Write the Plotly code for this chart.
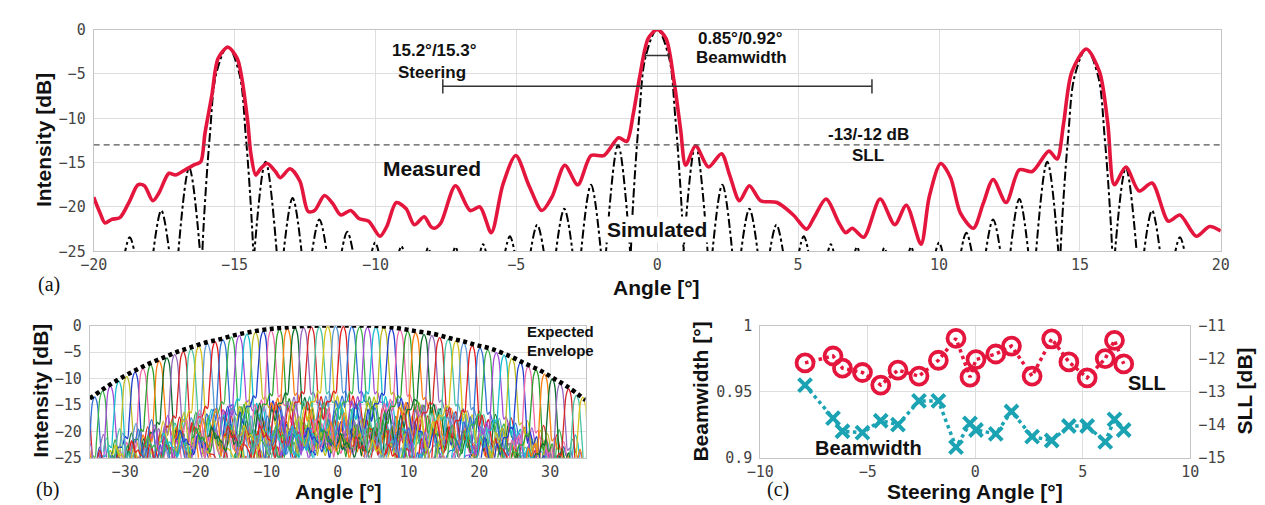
import plotly.graph_objects as go

# ---------------- Panel (a) data ----------------
meas_x = [-20.0,-19.77,-19.6,-19.36,-19.07,-18.72,-18.43,-18.2,-17.9,-17.68,-17.33,-17.1,-16.75,-16.4,-16.2,-16.05,-15.8,-15.59,-15.24,-14.9,-14.54,-14.43,-14.25,-14.08,-13.84,-13.55,-13.38,-13.03,-12.68,-12.39,-12.16,-11.81,-11.52,-11.23,-10.88,-10.59,-10.24,-9.84,-9.6,-9.26,-8.91,-8.62,-8.27,-8.04,-7.91,-7.68,-7.16,-6.64,-6.29,-5.89,-5.48,-5.02,-4.55,-4.09,-3.74,-3.28,-2.82,-2.35,-1.89,-1.37,-1.08,-0.85,-0.61,-0.32,0.0,0.31,0.6,0.83,1.01,1.36,1.82,2.28,2.57,2.92,3.27,3.67,4.25,4.83,5.3,5.58,5.99,6.45,6.69,6.92,7.33,7.91,8.43,8.84,9.36,9.65,10.06,10.41,10.76,11.22,11.57,11.92,12.38,12.85,13.31,13.9,14.19,14.42,14.71,15.23,15.7,15.99,16.22,16.63,17.1,17.56,18.14,18.55,19.13,19.6,20.0]
meas_y = [-18.9,-20.7,-21.8,-21.4,-21.2,-19.3,-17.5,-17.6,-19.3,-18.4,-16.2,-16.4,-15.8,-15.2,-14.9,-11.7,-7.3,-3.3,-2.0,-3.3,-10.2,-13.8,-16.4,-15.7,-15.1,-16.0,-16.7,-15.7,-17.1,-20.5,-20.4,-18.7,-19.6,-20.9,-20.4,-21.3,-21.6,-23.3,-22.2,-19.5,-20.2,-22.0,-21.1,-22.2,-22.4,-21.8,-17.6,-20.4,-20.0,-22.9,-17.5,-14.2,-17.6,-20.4,-18.9,-15.3,-17.5,-14.2,-14.2,-12.2,-12.6,-9.5,-5.1,-1.0,0.0,-1.0,-5.9,-11.3,-15.3,-13.1,-15.5,-14.0,-16.4,-19.3,-17.6,-19.3,-19.5,-20.9,-22.5,-21.1,-19.1,-21.8,-22.9,-22.4,-23.4,-19.1,-22.0,-19.8,-24.2,-18.9,-15.1,-16.7,-20.7,-22.4,-19.6,-16.9,-19.5,-15.8,-16.0,-13.7,-14.6,-10.6,-4.8,-2.2,-4.8,-10.6,-17.5,-15.5,-18.2,-17.3,-21.6,-20.9,-23.3,-22.2,-22.7]

# simulated lobes: centre, peak (dB), half width at the -25 dB floor
sim_c = [-18.72,-17.6,-16.61,-15.24,-13.9,-12.94,-11.99,-11.0,-10.01,-9.08,-8.13,-7.16,-6.18,-5.23,-4.26,-3.30,-2.35,-1.39,0.0,1.36,2.31,3.27,4.23,5.2,6.16,7.09,8.06,9.01,10.0,10.97,11.92,12.85,13.84,15.23,16.63,17.56,18.55]
sim_p = [-23.4,-20.4,-15.6,-1.9,-14.9,-19.0,-21.4,-22.8,-24.0,-24.4,-24.6,-24.5,-24.2,-23.3,-22.0,-20.2,-17.5,-13.0,0.0,-13.0,-17.5,-20.2,-22.0,-23.3,-24.2,-24.5,-24.6,-24.5,-24.0,-22.9,-21.4,-19.1,-14.9,-2.2,-15.6,-20.4,-23.4]
sim_hw = [0.19,0.29,0.38,0.95,0.39,0.32,0.27,0.22,0.15,0.12,0.10,0.11,0.13,0.19,0.25,0.30,0.35,0.42,0.96,0.42,0.35,0.30,0.25,0.19,0.13,0.11,0.10,0.11,0.15,0.21,0.27,0.32,0.39,0.97,0.38,0.29,0.19]
# main-lobe profile of the simulated beam (offset / relative dB)
main_dx = [-1.0, -0.9, -0.67, -0.425, 0.0, 0.425, 0.67, 0.9, 1.0]
main_rel = [-27, -20, -10, -3, 0, -3, -10, -20, -27]

steer_bracket = [-7.61, 7.62, -6.4]
bw_bracket = [-0.42, 0.42, -2.93]
sll_level = -13

# ---------------- Panel (b) data ----------------
beam_c = [-35.4,-34.3,-33.2,-32.1,-30.9,-29.8,-28.6,-27.5,-26.4,-25.2,-24.1,-23.0,-21.8,-20.7,-19.6,-18.4,-17.3,-16.2,-15.0,-13.9,-12.8,-11.6,-10.5,-9.4,-8.2,-7.1,-6.0,-4.8,-3.7,-2.6,-1.4,-0.3,0.8,2.0,3.1,4.2,5.4,6.5,7.6,8.8,9.9,11.0,12.2,13.3,14.4,15.6,16.7,17.8,19.0,20.1,21.2,22.4,23.5,24.6,25.8,26.9,28.0,29.2,30.3,31.4,32.6,33.7,34.6]
beam_p = [-15.6,-13.5,-12.4,-11.4,-10.5,-9.6,-8.8,-8.1,-7.4,-6.7,-6.1,-5.5,-4.9,-4.4,-3.9,-3.4,-3.1,-2.7,-2.2,-1.9,-1.6,-1.3,-1.1,-0.9,-0.7,-0.6,-0.5,-0.4,-0.3,-0.3,-0.2,-0.2,-0.2,-0.2,-0.3,-0.3,-0.3,-0.4,-0.6,-0.8,-1.1,-1.4,-1.7,-1.9,-2.3,-2.6,-2.9,-3.3,-3.8,-4.2,-4.6,-5.1,-5.6,-6.2,-7.0,-7.7,-8.4,-9.2,-10.1,-11.0,-12.0,-13.2,-13.6]
env_x = [-35,-33.4,-31.7,-29.9,-28,-26.3,-24.3,-22.5,-20.7,-18.6,-16.7,-14.5,-12.3,-10,-7.7,-5,-2.6,0,2.5,4.8,7.6,10.8,13.6,15.9,17.8,19.6,21.7,24.5,26.5,28.6,30.5,32.5,35]
env_y = [-13.8,-12.3,-10.8,-9.4,-8.1,-7.0,-5.9,-4.9,-4.1,-3.2,-2.6,-1.8,-1.2,-0.7,-0.4,-0.1,0,0,0,0,-0.3,-1.0,-1.6,-2.4,-3.0,-3.7,-4.4,-5.9,-7.2,-8.5,-10.0,-11.6,-14.1]
beam_colors = ['#e41a1c','#2f6fd6','#3cb44b','#a24bd8','#17becf','#bcbd22','#1f3fd0','#f06aa8',
               '#2ca02c','#ff7f0e','#0b6e2e','#9467bd','#d62728','#46c3a0','#d4c21a','#5b9bd5']

# ---------------- Panel (c) data ----------------
steer = [-7.92,-6.62,-6.18,-5.25,-4.40,-3.60,-2.62,-1.72,-0.90,-0.25,0.03,0.95,1.68,2.64,3.55,4.35,5.20,6.04,6.47,6.90]
sll = [-12.13,-11.92,-12.29,-12.42,-12.80,-12.35,-12.53,-12.05,-11.39,-12.56,-12.03,-11.86,-11.62,-12.53,-11.40,-12.10,-12.58,-12.00,-11.45,-12.16]
bw = [0.955,0.930,0.920,0.919,0.928,0.925,0.943,0.943,0.908,0.926,0.921,0.918,0.935,0.916,0.913,0.924,0.924,0.912,0.929,0.921]

# ---------------- style ----------------
W, H = 1265, 505
RED = '#e4163d'
CYAN = '#1ba3b3'
SANS = 'Liberation Sans, Arial, sans-serif'
MONO = 'DejaVu Sans Mono, monospace'
SERIF = 'Liberation Serif, Times New Roman, serif'
GRID = '#dedede'
FRAME = '#c4c4c4'
TICKF = dict(family=MONO, size=15, color='#444')

def px(xp, yp):
    return xp / W, 1 - yp / H

fig = go.Figure()

# simulated (a)
sx, sy = [], []
for c, p, hw in zip(sim_c, sim_p, sim_hw):
    if p > -5:
        for dx, r in zip(main_dx, main_rel):
            sx.append(c + dx * hw)
            sy.append(p + r)
    else:
        sx += [c - hw * 1.05, c, c + hw * 1.05]
        sy += [-25.6, p, -25.6]
    sx.append(None)
    sy.append(None)
fig.add_trace(go.Scatter(x=sx, y=sy, mode='lines', xaxis='x', yaxis='y',
                         line=dict(color='black', width=2, dash='dashdot', shape='spline'),
                         connectgaps=False, showlegend=False))
fig.add_trace(go.Scatter(x=meas_x, y=meas_y, mode='lines', xaxis='x', yaxis='y',
                         line=dict(color=RED, width=3.6, shape='spline', smoothing=0.8),
                         showlegend=False))

# panel (b) beams
rel = [(x, y) for x, y in zip(meas_x, meas_y) if -12.5 <= x <= 12.5]
for i, (c, p) in enumerate(zip(beam_c, beam_p)):
    if i % 2 == 0:
        bx = [c + x for x, _ in rel]
        by = [p + y for _, y in rel]
    else:
        bx = [c - x for x, _ in reversed(rel)]
        by = [p + y for _, y in reversed(rel)]
    fig.add_trace(go.Scatter(x=bx, y=by, mode='lines', xaxis='x2', yaxis='y2',
                             line=dict(color=beam_colors[i % len(beam_colors)], width=1.3, shape='spline'),
                             showlegend=False))
fig.add_trace(go.Scatter(x=env_x, y=env_y, mode='lines', xaxis='x2', yaxis='y2',
                         line=dict(color='black', width=4.5, dash='4px,3.5px', shape='spline'),
                         showlegend=False))

# panel (c)
fig.add_trace(go.Scatter(x=steer, y=bw, mode='lines+markers', xaxis='x3', yaxis='y3',
                         line=dict(color=CYAN, width=3.5, dash='dot'),
                         marker=dict(symbol='x-thin', size=13, line=dict(width=4, color=CYAN)),
                         showlegend=False))
fig.add_trace(go.Scatter(x=steer, y=sll, mode='lines+markers', xaxis='x3', yaxis='y4',
                         line=dict(color=RED, width=3.5, dash='dot'),
                         marker=dict(symbol='circle-open', size=17, line=dict(width=3.8, color=RED)),
                         showlegend=False))

def axstyle(**kw):
    d = dict(showgrid=True, gridcolor=GRID, gridwidth=1, zeroline=False,
             showline=True, linecolor=FRAME, linewidth=1, mirror=True,
             ticks='', tickfont=TICKF)
    d.update(kw)
    return d

ax_a = [73 / W, 1221 / W]
ay_a = [1 - 243 / H, 1 - 13 / H]
ax_b = [69 / W, 574 / W]
ay_bc = [1 - 457 / H, 1 - 320 / H]
ax_c = [752 / W, 1190 / W]

fig.update_layout(
    width=W, height=H, autosize=False,
    margin=dict(l=0, r=0, t=0, b=0),
    paper_bgcolor='white', plot_bgcolor='white',
    xaxis=axstyle(domain=ax_a, range=[-20, 20], tickvals=list(range(-20, 21, 5)), anchor='y'),
    yaxis=axstyle(domain=ay_a, range=[-25, 0], tickvals=list(range(-25, 1, 5)), anchor='x', ticklabelstandoff=4),
    xaxis2=axstyle(domain=ax_b, range=[-35, 35], tickvals=list(range(-30, 31, 10)), anchor='y2'),
    yaxis2=axstyle(domain=ay_bc, range=[-25, 0], tickvals=list(range(-25, 1, 5)), anchor='x2', ticklabelstandoff=4),
    xaxis3=axstyle(domain=ax_c, range=[-10, 10], tickvals=list(range(-10, 11, 5)), anchor='y3'),
    yaxis3=axstyle(domain=ay_bc, range=[0.9, 1.0], tickvals=[0.9, 0.95, 1.0], ticktext=['0.9', '0.95', '1'],
                   anchor='x3', ticklabelstandoff=4, mirror=False),
    yaxis4=axstyle(domain=ay_bc, range=[-15, -11], tickvals=[-15, -14, -13, -12, -11], anchor='x3',
                   overlaying='y3', side='right', showgrid=False, ticklabelstandoff=4, mirror=False),
)

shapes = []
# SLL dashed line
shapes.append(dict(type='line', xref='x', yref='y', x0=-20, x1=20, y0=sll_level, y1=sll_level,
                   line=dict(color='#555', width=1.2, dash='6px,4px')))
# steering bracket
l, r, yv = steer_bracket
shapes.append(dict(type='line', xref='x', yref='y', x0=l, x1=r, y0=yv, y1=yv, line=dict(color='#333', width=1.5)))
for xv in (l, r):
    shapes.append(dict(type='line', xref='x', yref='y', x0=xv, x1=xv, y0=yv - 0.8, y1=yv + 0.8,
                       line=dict(color='#333', width=1.5)))
# beamwidth bracket
l, r, yv = bw_bracket
shapes.append(dict(type='line', xref='x', yref='y', x0=l, x1=r, y0=yv, y1=yv, line=dict(color='#333', width=1.5)))
for xv in (l, r):
    shapes.append(dict(type='line', xref='x', yref='y', x0=xv, x1=xv, y0=yv - 0.3, y1=yv + 0.3,
                       line=dict(color='#333', width=1.2)))
fig.update_layout(shapes=shapes)

ann = []
def T(text, xp, yp, size, bold=True, family=SANS, angle=0, bg=None, xanchor='center'):
    x, y = px(xp, yp)
    d = dict(text=('<b>%s</b>' % text) if bold else text, x=x, y=y, xref='paper', yref='paper',
             showarrow=False, xanchor=xanchor, yanchor='middle', textangle=angle,
             font=dict(family=family, size=size, color='#111'))
    if bg:
        d['bgcolor'] = bg
        d['borderpad'] = 1
    ann.append(d)

# panel (a)
T('Intensity [dB]', 22, 128, 21, angle=-90)
T('Angle [°]', 646, 280, 21)
T('(a)', 28, 277, 20, bold=False, family=SERIF)
T('15.2°/15.3°', 420, 35, 17)
T('Steering', 418, 58, 17)
T('0.85°/0.92°', 732, 22, 17)
T('Beamwidth', 733, 42, 17)
T('-13/-12 dB', 862, 122, 17)
T('SLL', 862, 144, 17)
T('Measured', 418, 157, 21)
T('Simulated', 647, 220, 21, bg='white')
# panel (b)
T('Intensity [dB]', 19, 388, 21, angle=-90)
T('Angle [°]', 322, 492, 21)
T('(b)', 26, 490, 20, bold=False, family=SERIF)
T('Expected', 548, 326, 15)
T('Envelope', 548, 346, 15)
# panel (c)
T('Beamwidth [°]', 691, 388, 21, angle=-90)
T('SLL [dB]', 1245, 388, 21, angle=-90)
T('Steering Angle [°]', 971, 492, 21)
T('(c)', 770, 490, 20, bold=False, family=SERIF)
T('SLL', 1146, 380, 20)
T('Beamwidth', 862, 447, 20)
fig.update_layout(annotations=ann)

fig.write_html('out.html')
